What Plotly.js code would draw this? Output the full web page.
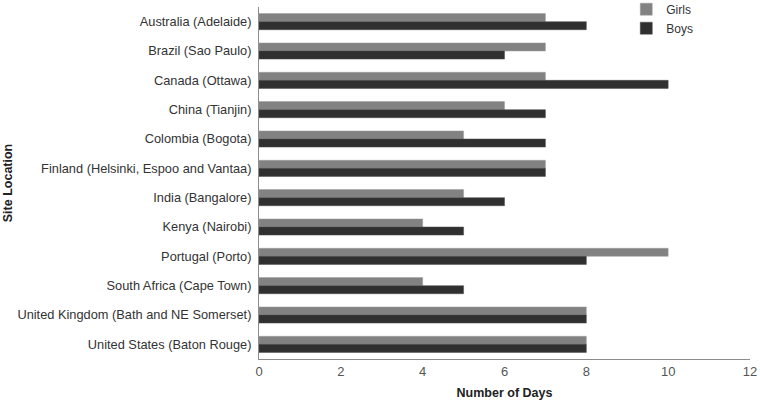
<!DOCTYPE html>
<html>
<head>
<meta charset="utf-8">
<script src="https://cdn.plot.ly/plotly-3.0.1.min.js"></script>
<style>
  body { margin: 0; background: #fff; }
  #chart { width: 760px; height: 401px; }
</style>
</head>
<body>
<div id="chart"></div>
<script>
// Sites, top to bottom
const sites = [
    'Australia (Adelaide)',
    'Brazil (Sao Paulo)',
    'Canada (Ottawa)',
    'China (Tianjin)',
    'Colombia (Bogota)',
    'Finland (Helsinki, Espoo and Vantaa)',
    'India (Bangalore)',
    'Kenya (Nairobi)',
    'Portugal (Porto)',
    'South Africa (Cape Town)',
    'United Kingdom (Bath and NE Somerset)',
    'United States (Baton Rouge)'
];
const girlsDays = [7, 7, 7, 6, 5, 7, 5, 4, 10, 4, 8, 8];
const boysDays = [8, 6, 10, 7, 7, 7, 6, 5, 8, 5, 8, 8];
const xTicks = [0, 2, 4, 6, 8, 10, 12];

var girls = {
    type: 'bar',
    orientation: 'h',
    name: 'Girls',
    y: sites,
    x: girlsDays,
    marker: { color: '#828282', line: { color: '#9c9c9c', width: 0.5 } }
};

var boys = {
    type: 'bar',
    orientation: 'h',
    name: 'Boys',
    y: sites,
    x: boysDays,
    marker: { color: '#303030', line: { color: '#4a4a4a', width: 0.5 } }
};

var layout = {
    width: 760,
    height: 401,
    // keep the plot box fixed, the legend sits in the top margin
    margin: { l: 259, r: 10, t: 7, b: 42, autoexpand: false },
    paper_bgcolor: '#fff',
    plot_bgcolor: '#fff',
    font: { family: 'Liberation Sans, Arial, sans-serif', size: 12.8, color: '#333' },
    barmode: 'group',
    bargap: 0.45,
    bargroupgap: 0,
    showlegend: true,
    legend: {
        x: 0.748, y: 1.035, xanchor: 'left', yanchor: 'top',
        font: { size: 12, color: '#333' },
        bgcolor: 'rgba(0,0,0,0)',
        tracegroupgap: 0,
        itemwidth: 30
    },
    xaxis: {
        range: [0, 12],
        tickvals: xTicks,
        showgrid: false,
        zeroline: false,
        showline: true,
        linecolor: '#8c8c8c',
        linewidth: 1,
        ticks: '',
        automargin: false,
        tickfont: { color: '#555', size: 13 },
        title: { text: '<b>Number of Days</b>', font: { size: 12.5, color: '#222' }, standoff: 10 }
    },
    yaxis: {
        autorange: 'reversed',
        showgrid: false,
        zeroline: false,
        showline: true,
        linecolor: '#8c8c8c',
        linewidth: 1,
        ticks: '',
        automargin: false,
        ticklabelstandoff: 4,
        tickfont: { color: '#333', size: 12.8 },
        title: { text: '<b>Site Location</b>', font: { size: 12.5, color: '#222' }, standoff: 2 }
    }
};

Plotly.newPlot('chart', [girls, boys], layout, { displayModeBar: false, staticPlot: true });
</script>
</body>
</html>
